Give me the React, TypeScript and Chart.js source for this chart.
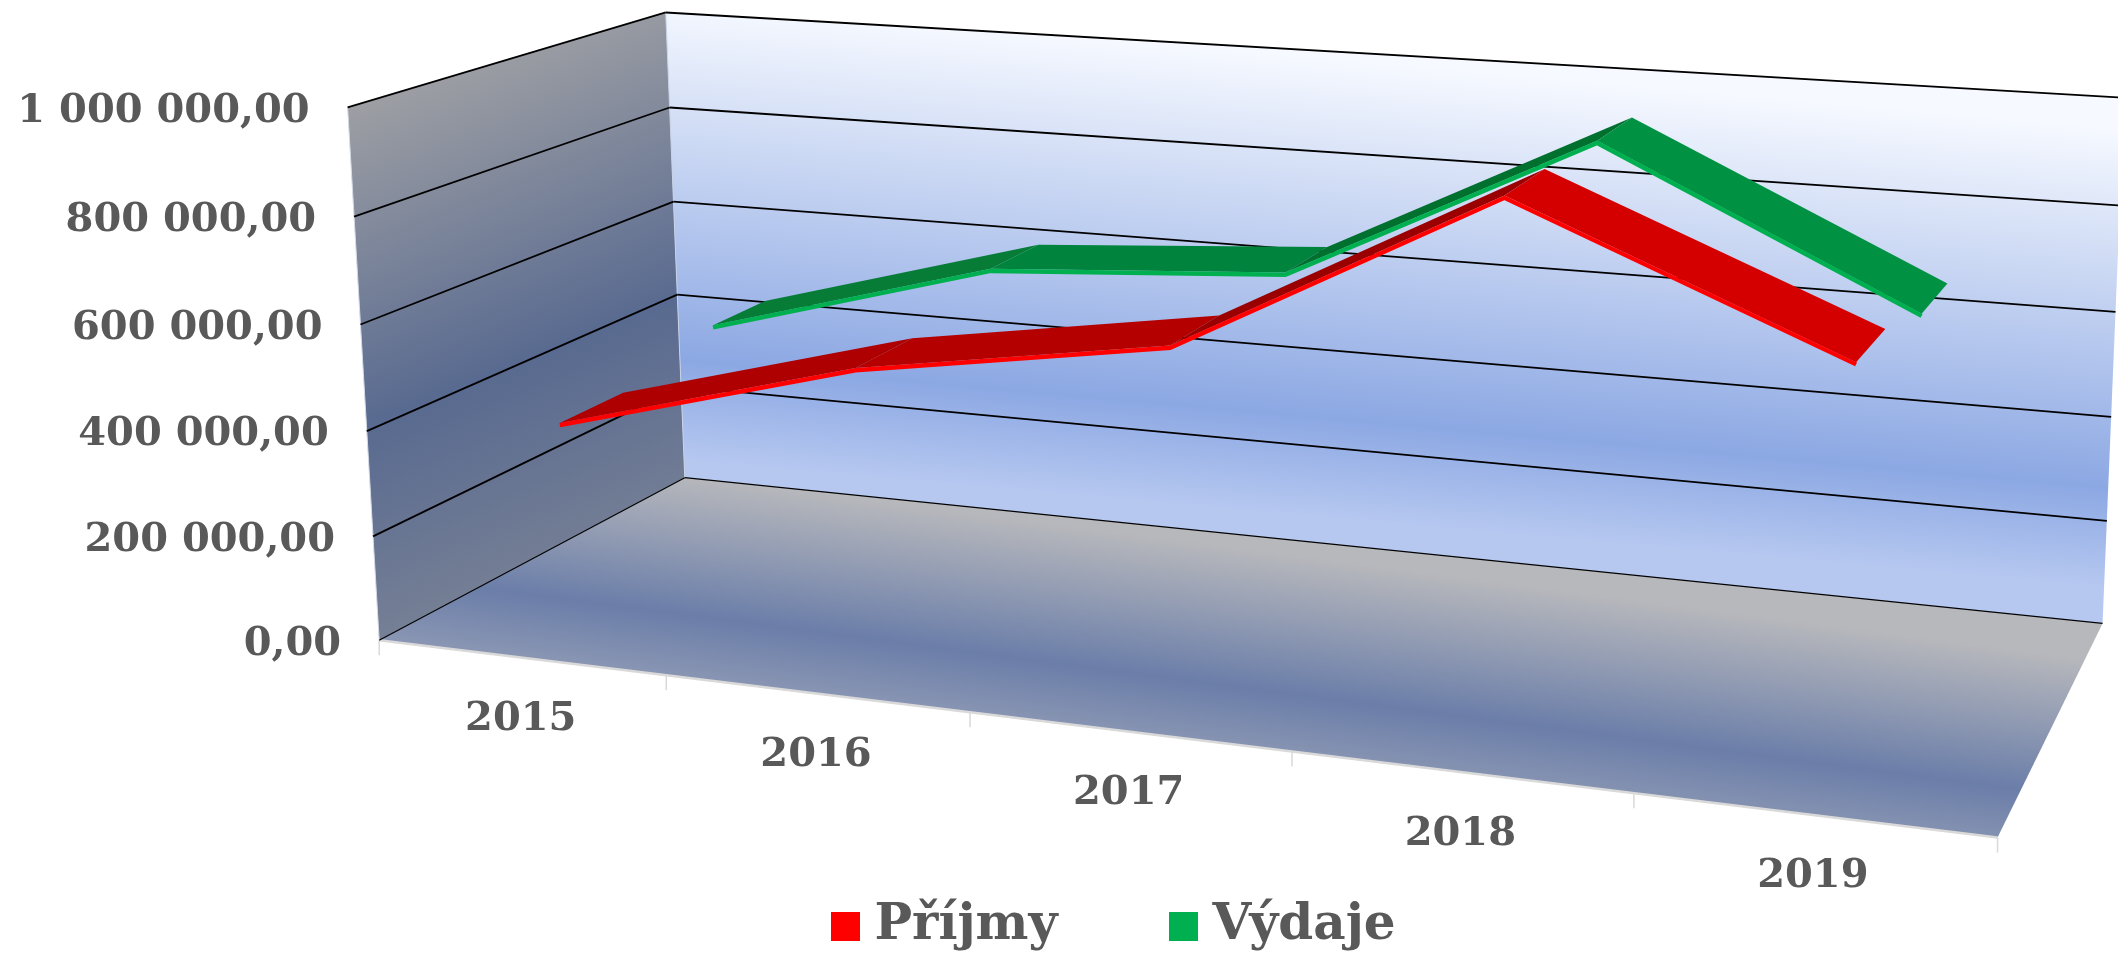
import { useEffect, useRef } from 'react';
import { Chart, registerables } from 'chart.js';
Chart.register(...registerables);

const categories = ['2015', '2016', '2017', '2018', '2019'];
const seriesNames = ['Příjmy', 'Výdaje'];
const prijmy = [398000, 548000, 634000, 937000, 695000];
const vydaje = [448000, 604000, 638000, 925000, 646000];
const tickStep = 200000;
const axisMax = 1000000;

const INK = '#595959';
const FONT = '"DejaVu Serif", serif';
const bright = ['#FF0000', '#00B050'];
const shades = [['#AE0000', '#B50000', '#9A0000', '#D40000'], ['#067C36', '#00843D', '#00702F', '#009242']];
// depth of each ribbon's front and back edge: base + drift * u
const depth = [[[0.141, 0.0875], [0.34, 0.1]], [[0.6525, 0.075], [0.839, 0.11]]];
const dw = (di: number, edge: number, u: number) => depth[di][edge][0] + depth[di][edge][1] * u;

const camera: number[][] = [
  [0, 0, 0, 380, 640], [0.2, 0, 0, 667, 675], [0.4, 0, 0, 970, 712], [0.6, 0, 0, 1291, 751], [0.8, 0, 0, 1632, 793], [1, 0, 0, 2000, 837],
  [0, 0.2, 0, 373, 537], [0, 0.4, 0, 366.4, 432], [0, 0.6, 0, 360.4, 325], [0, 0.8, 0, 353.5, 217], [0, 1, 0, 347.6, 107.3],
  [0, 0, 1, 684, 477], [0, 0.2, 1, 680.5, 388], [0, 0.4, 1, 677.7, 295], [0, 0.6, 1, 674, 201.3], [0, 0.8, 1, 669.4, 107], [0, 1, 1, 666.7, 11],
  [1, 0, 1, 2103, 623], [1, 0.2, 1, 2107, 520], [1, 0.4, 1, 2111, 419], [1, 0.6, 1, 2115, 312], [1, 0.8, 1, 2120, 206], [1, 1, 1, 2124, 97.4],
];

function solveCamera(): number[] {
  const n = 11;
  const A = Array.from({ length: n }, () => new Array(n + 1).fill(0));
  const add = (r: number[], b: number) => {
    for (let i = 0; i < n; i++) {
      for (let j = 0; j < n; j++) A[i][j] += r[i] * r[j];
      A[i][n] += r[i] * b;
    }
  };
  for (const [u, v, w, x, y] of camera) {
    add([1, u, v, w, 0, 0, 0, 0, -x * u, -x * v, -x * w], x);
    add([0, 0, 0, 0, 1, u, v, w, -y * u, -y * v, -y * w], y);
  }
  for (let c = 0; c < n; c++) {
    let p = c;
    for (let r = c + 1; r < n; r++) if (Math.abs(A[r][c]) > Math.abs(A[p][c])) p = r;
    [A[c], A[p]] = [A[p], A[c]];
    for (let r = 0; r < n; r++) {
      if (r === c) continue;
      const f = A[r][c] / A[c][c];
      for (let k = c; k <= n; k++) A[r][k] -= f * A[c][k];
    }
  }
  return A.map((row, i) => row[n] / row[i]);
}
const M = solveCamera();
const project = (u: number, v: number, w: number) => {
  const d = 1 + M[8] * u + M[9] * v + M[10] * w;
  return { x: (M[0] + M[1] * u + M[2] * v + M[3] * w) / d, y: (M[4] + M[5] * u + M[6] * v + M[7] * w) / d };
};

const poly = (ctx: CanvasRenderingContext2D, pts: { x: number; y: number }[]) => {
  ctx.beginPath();
  pts.forEach((p, i) => (i ? ctx.lineTo(p.x, p.y) : ctx.moveTo(p.x, p.y)));
  ctx.closePath();
};
const tilted = (ctx: CanvasRenderingContext2D, s: number, stops: [number, string][]) => {
  const t0 = stops[0][0];
  const t1 = stops[stops.length - 1][0];
  const q = 1 + s * s;
  const g = ctx.createLinearGradient((-s * t0) / q, t0 / q, (-s * t1) / q, t1 / q);
  stops.forEach(([t, c]) => g.addColorStop((t - t0) / (t1 - t0), c));
  return g;
};
const seg = (ctx: CanvasRenderingContext2D, a: { x: number; y: number }, b: { x: number; y: number }, c: string, lw: number) => {
  ctx.beginPath();
  ctx.moveTo(a.x, a.y);
  ctx.lineTo(b.x, b.y);
  ctx.strokeStyle = c;
  ctx.lineWidth = lw;
  ctx.stroke();
};
const fmt = (val: number) => String(Math.round(val)).replace(/\B(?=(\d{3})+(?!\d))/g, ' ') + ',00';

const perspective = {
  id: 'perspective',
  afterLayout(chart: any) {
    const l = chart.legend;
    if (!l) return;
    const h = l.bottom - l.top;
    l.top = 901.5 - chart.options.plugins.legend.labels.padding;
    l.bottom = l.top + h;
    l.left = 120;
    l.right = 2118;
  },
  afterDatasetsUpdate(chart: any) {
    const xs = chart.scales.x, ys = chart.scales.y;
    chart.data.datasets.forEach((ds: any, di: number) => {
      const meta = chart.getDatasetMeta(di);
      meta.data.forEach((pt: any, i: number) => {
        const u = (xs.getPixelForValue(i) - xs.left) / xs.width;
        const v = (ys.bottom - ys.getPixelForValue(ds.data[i])) / (ys.bottom - ys.top);
        const p = project(u, v, dw(di, 0, u));
        pt.x = p.x;
        pt.y = p.y + 2.2;
        pt.$uv = [u, v];
      });
    });
  },
  beforeDatasetsDraw(chart: any) {
    const ctx = chart.ctx as CanvasRenderingContext2D;
    const xs = chart.scales.x, ys = chart.scales.y;
    ctx.save();
    poly(ctx, [project(0, 0, 1), project(1, 0, 1), project(1, 1, 1), project(0, 1, 1)]);
    ctx.fillStyle = tilted(ctx, 0.089, [[-60, '#F6F9FF'], [300, '#8CA8E3'], [400, '#B6C8F0']]);
    ctx.fill();
    poly(ctx, [project(0, 0, 0), project(0, 0, 1), project(0, 1, 1), project(0, 1, 0)]);
    ctx.fillStyle = tilted(ctx, -0.4, [[250, '#9C9EA3'], [570, '#596A90'], [790, '#757F95']]);
    ctx.fill();
    poly(ctx, [project(0, 0, 0), project(1, 0, 0), project(1, 0, 1), project(0, 0, 1)]);
    ctx.fillStyle = tilted(ctx, 0.131, [[385, '#B7B8BC'], [525, '#6B7EA9'], [590, '#8A96B3']]);
    ctx.fill();

    seg(ctx, project(0, 0, 0), project(0, 1, 0), '#D5DAE5', 1);
    seg(ctx, project(0, 0, 1), project(0, 1, 1), '#C9D3E8', 1);
    seg(ctx, project(0, 0, 0), project(1, 0, 0), '#D9D9D9', 2.5);
    categories.concat('').forEach((_, i) => {
      const px = (xs.getPixelForValue(i - 0.5) - xs.left) / xs.width;
      const a = project(px, 0, 0);
      seg(ctx, a, { x: a.x, y: a.y + 15 }, '#D9D9D9', 1.5);
    });

    ctx.font = `bold 40px ${FONT}`;
    ctx.textBaseline = 'middle';
    ys.ticks.forEach((t: any) => {
      const v = (ys.bottom - ys.getPixelForValue(t.value)) / (ys.bottom - ys.top);
      const lw = v === 0 ? 1.2 : 1.8;
      seg(ctx, project(0, v, 0), project(0, v, 1), '#000', lw);
      seg(ctx, project(0, v, 1), project(1, v, 1), '#000', lw);
      const a = project(0, v, 0);
      ctx.textAlign = 'right';
      ctx.fillStyle = INK;
      ctx.fillText(t.label, a.x - 38, a.y + 4);
    });
    xs.ticks.forEach((t: any, i: number) => {
      const u = (xs.getPixelForValue(i) - xs.left) / xs.width;
      const a = project(u, 0, 0);
      ctx.textAlign = 'center';
      ctx.fillStyle = INK;
      ctx.fillText(String(t.label), a.x, a.y + 62);
    });
    ctx.restore();
  },
  beforeDatasetDraw(chart: any, args: any) {
    const ctx = chart.ctx as CanvasRenderingContext2D;
    const di = args.index;
    const pts = chart.getDatasetMeta(di).data;
    ctx.save();
    for (let i = 0; i < pts.length - 1; i++) {
      const [u0, v0] = pts[i].$uv;
      const [u1, v1] = pts[i + 1].$uv;
      poly(ctx, [project(u0, v0, dw(di, 0, u0)), project(u1, v1, dw(di, 0, u1)), project(u1, v1, dw(di, 1, u1)), project(u0, v0, dw(di, 1, u0))]);
      ctx.fillStyle = shades[di][i];
      ctx.fill();
    }
    ctx.restore();
  },
};

export default function App() {
  const ref = useRef<HTMLCanvasElement>(null);
  useEffect(() => {
    document.body.style.margin = '0';
    const boxes = bright.map((c) => {
      const b = document.createElement('canvas');
      b.width = 29;
      b.height = 29;
      const g = b.getContext('2d')!;
      g.fillStyle = c;
      g.fillRect(0, 0, 29, 29);
      return b;
    });
    const chart = new Chart(ref.current!, {
      type: 'line',
      data: {
        labels: categories,
        datasets: [
          { label: seriesNames[0], data: prijmy, borderColor: bright[0], backgroundColor: bright[0], borderWidth: 4.4, pointRadius: 0, tension: 0, clip: false, fill: false },
          { label: seriesNames[1], data: vydaje, borderColor: bright[1], backgroundColor: bright[1], borderWidth: 4.4, pointRadius: 0, tension: 0, clip: false, fill: false },
        ],
      } as any,
      options: {
        responsive: false,
        animation: false,
        devicePixelRatio: 1,
        scales: {
          x: { display: false, offset: true },
          y: { display: false, min: 0, max: axisMax, ticks: { stepSize: tickStep, callback: (v: any) => fmt(Number(v)) } },
        },
        plugins: {
          tooltip: { enabled: false },
          legend: {
            display: true,
            position: 'bottom',
            labels: {
              usePointStyle: true,
              pointStyleWidth: 7,
              padding: 123,
              color: INK,
              font: { family: FONT, size: 50, weight: 'bold' },
              generateLabels: () => seriesNames.map((text, i) => ({ text, pointStyle: boxes[i], fillStyle: bright[i], strokeStyle: bright[i], lineWidth: 0, fontColor: INK, datasetIndex: i })),
            },
          },
        },
      } as any,
      plugins: [perspective],
    });
    return () => chart.destroy();
  }, []);
  return <canvas ref={ref} width={2118} height={958} style={{ display: 'block' }} />;
}
